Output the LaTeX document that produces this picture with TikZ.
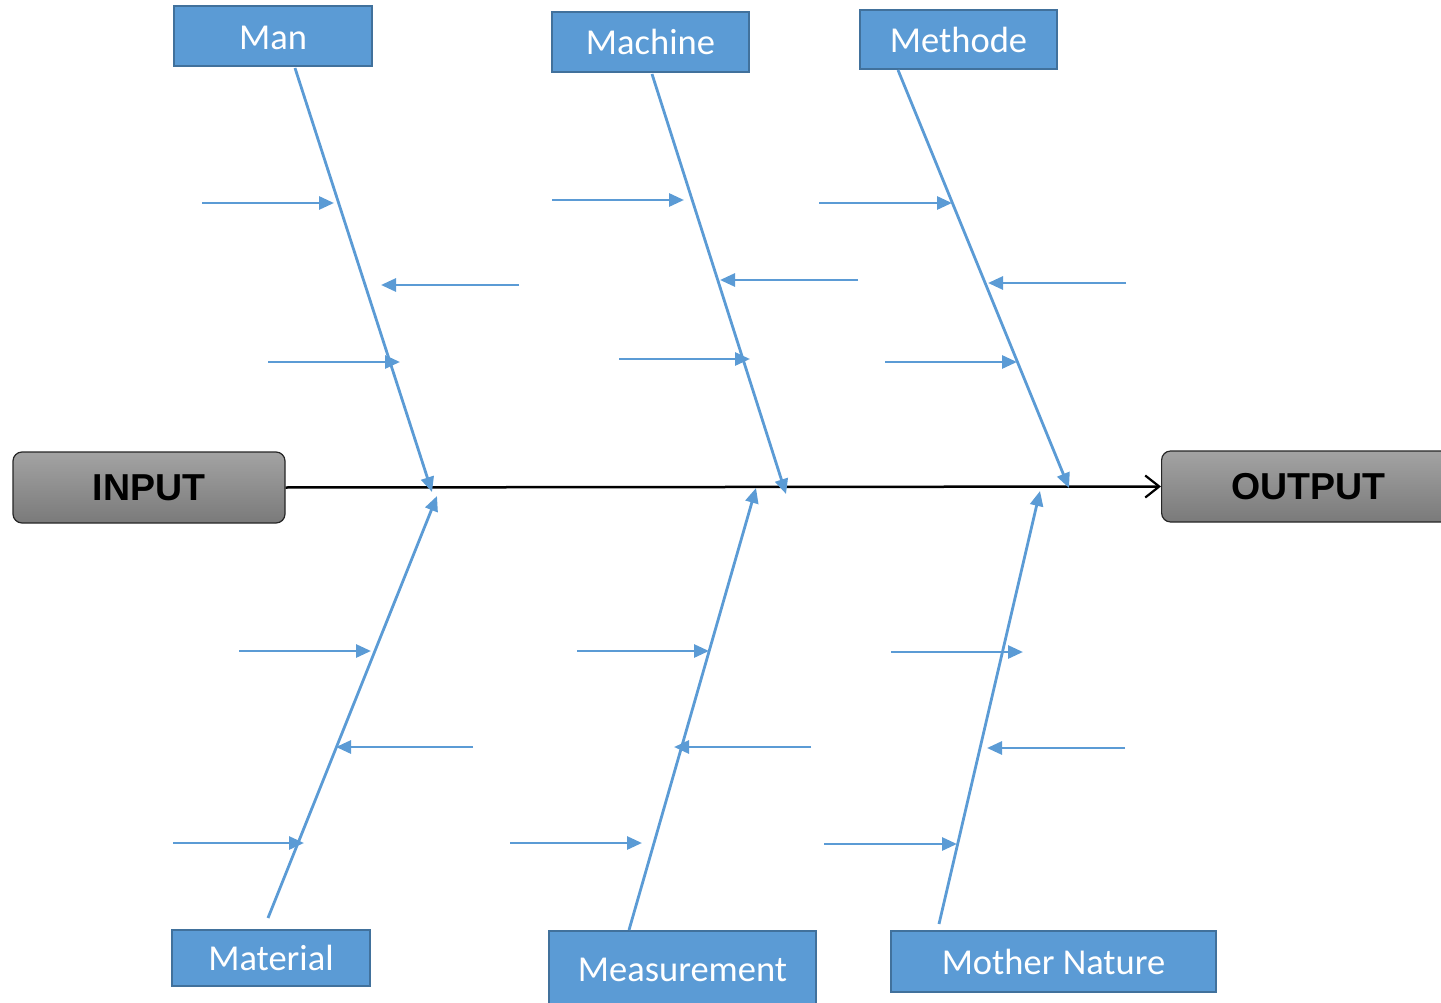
\documentclass[tikz,border=0pt]{standalone}
\usepackage{fontspec}
\setmainfont{Carlito}
\newfontfamily\headfont{Liberation Sans}
\usetikzlibrary{arrows.meta}
\definecolor{boneblue}{HTML}{5B9BD5}
\definecolor{boxedge}{HTML}{41719C}
\definecolor{endtop}{HTML}{A3A3A3}
\definecolor{endbot}{HTML}{7A7A7A}
\begin{document}
\begin{tikzpicture}[x=1pt,y=-1pt,
  catbox/.style={draw=boxedge,line width=2pt,fill=boneblue,text=white,
    font=\fontsize{36.5}{40}\selectfont,inner sep=0pt},
  endbox/.style={draw=black!85,line width=1.2pt,rounded corners=9pt,
    top color=endtop,bottom color=endbot,inner sep=0pt,
    font=\headfont\bfseries\fontsize{37.5}{40}\selectfont},
  bone/.style={draw=boneblue,line width=2.8pt,-{Triangle[length=15pt,width=13pt]}},
  twig/.style={draw=boneblue,line width=2.8pt,-{Triangle[length=15pt,width=13pt]}},
  spine/.style={draw=black,line width=2.5pt,-{Straight Barb[length=14pt,width=22pt,line width=2.2pt]}}
]
\clip (0,0) rectangle (1441,1003);
\useasboundingbox (0,0) rectangle (1441,1003);

% head and tail
\node[endbox,minimum width=272pt,minimum height=71pt] (input) at (149,487.5) {INPUT};
\node[endbox,minimum width=300pt,minimum height=71pt,anchor=west] (output) at (1161,486.5) {\hspace*{-6pt}OUTPUT};
\draw[spine] (input.east) -- (output.west);

% category boxes
\node[catbox,minimum width=198pt,minimum height=60pt,text depth=0pt] (man) at (273,36) {\raisebox{-3pt}{Man}};
\node[catbox,minimum width=197pt,minimum height=60pt] (machine) at (650.5,42) {\raisebox{-2pt}{Machine}};
\node[catbox,minimum width=197pt,minimum height=59pt] (methode) at (958.5,39.5) {Methode};
\node[catbox,minimum width=198pt,minimum height=56pt] (material) at (271,958) {Material};
\node[catbox,minimum width=267pt,minimum height=78pt] (measure) at (682.5,970) {Measurement};
\node[catbox,minimum width=325pt,minimum height=61pt] (nature) at (1053.5,961.5) {Mother Nature};

% bone end points
\coordinate (manS) at (295,68);    \coordinate (manT) at (432,492);
\coordinate (macS) at (652,74);    \coordinate (macT) at (786,494);
\coordinate (metS) at (898,70);    \coordinate (metT) at (1069,488);
\coordinate (matS) at (268,918);   \coordinate (matT) at (437,496);
\coordinate (meaS) at (629,930);   \coordinate (meaT) at (756,488);
\coordinate (natS) at (939,924);   \coordinate (natT) at (1040,491);

\draw[bone] (manS) -- (manT);
\draw[bone] (macS) -- (macT);
\draw[bone] (metS) -- (metT);
\draw[bone] (matS) -- (matT);
\draw[bone] (meaS) -- (meaT);
\draw[bone] (natS) -- (natT);

% cause arrows on the Man bone
\coordinate (a1s) at (202,203); \coordinate (a1e) at (334,203);
\coordinate (a2s) at (519,285); \coordinate (a2e) at (381,285);
\coordinate (a3s) at (268,362); \coordinate (a3e) at (400,362);
% Machine bone
\coordinate (b1s) at (552,200); \coordinate (b1e) at (684,200);
\coordinate (b2s) at (858,280); \coordinate (b2e) at (720,280);
\coordinate (b3s) at (619,359); \coordinate (b3e) at (750,359);
% Methode bone
\coordinate (c1s) at (819,203); \coordinate (c1e) at (952,203);
\coordinate (c2s) at (1126,283); \coordinate (c2e) at (988,283);
\coordinate (c3s) at (885,362); \coordinate (c3e) at (1017,362);
% Material bone
\coordinate (d1s) at (239,651); \coordinate (d1e) at (371,651);
\coordinate (d2s) at (473,747); \coordinate (d2e) at (336,747);
\coordinate (d3s) at (173,843); \coordinate (d3e) at (304,843);
% Measurement bone
\coordinate (e1s) at (577,651); \coordinate (e1e) at (709,651);
\coordinate (e2s) at (811,747); \coordinate (e2e) at (674,747);
\coordinate (e3s) at (510,843); \coordinate (e3e) at (642,843);
% Mother Nature bone
\coordinate (f1s) at (891,652); \coordinate (f1e) at (1023,652);
\coordinate (f2s) at (1125,748); \coordinate (f2e) at (987,748);
\coordinate (f3s) at (824,844); \coordinate (f3e) at (957,844);

\foreach \g in {a,b,c,d,e,f}{
  \foreach \i in {1,2,3}{
    \draw[twig] (\g\i s) -- (\g\i e);
  }
}
\end{tikzpicture}
\end{document}
